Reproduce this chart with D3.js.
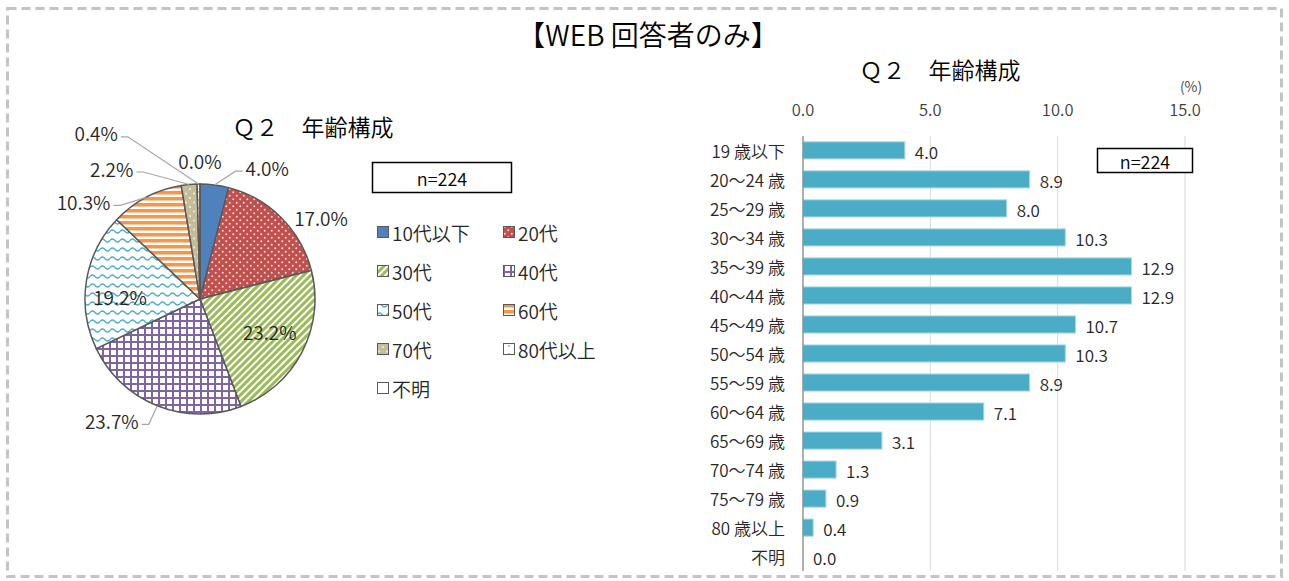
<!DOCTYPE html>
<html>
<head>
<meta charset="utf-8">
<script src="https://cdn.jsdelivr.net/npm/d3@7"></script>
<style>
  body { margin: 0; background: #fff; }
  svg { display: block; font-family: "Noto Sans CJK JP", "Noto Sans", sans-serif; font-weight: 350; }
</style>
</head>
<body>
<svg id="chart" width="1289" height="581"></svg>
<script>
// DATA
const pieCats = ["10代以下", "20代", "30代", "40代", "50代", "60代", "70代", "80代以上", "不明"];
const pieValues = [4.0, 17.0, 23.2, 23.7, 19.2, 10.3, 2.2, 0.4, 0.0];
const ageCats = ["19 歳以下", "20〜24 歳", "25〜29 歳", "30〜34 歳", "35〜39 歳", "40〜44 歳", "45〜49 歳",
  "50〜54 歳", "55〜59 歳", "60〜64 歳", "65〜69 歳", "70〜74 歳", "75〜79 歳", "80 歳以上", "不明"];
const ageValues = [4.0, 8.9, 8.0, 10.3, 12.9, 12.9, 10.7, 10.3, 8.9, 7.1, 3.1, 1.3, 0.9, 0.4, 0.0];
const xTicks = [0, 5, 10, 15];
const sampleLabel = "n=224";

// LAYOUT
const PIE_CX = 200, PIE_CY = 299, PIE_R = 115;
// label placement around the pie: angle (deg from 12 o'clock), distance from centre
const labelAngle = [27, 56, 115, 216, 272, 310, 326, 328, 0];
const labelDist = [148, 146, 77, 150, 80, 152, 158, 196, 139];
const hasLeader = [true, false, false, true, false, true, true, true, false];

const svg = d3.select("#chart");
const defs = svg.append("defs");

// PATTERNS
const addPattern = (id, w, h, draw, transform) => {
  const p = defs.append("pattern")
    .attr("id", id)
    .attr("patternUnits", "userSpaceOnUse")
    .attr("width", w)
    .attr("height", h);
  if (transform) p.attr("patternTransform", transform);
  draw(p);
};

addPattern("p0", 4, 4, p => p.append("rect").attr("width", 4).attr("height", 4).attr("fill", "#4f81bd"));
addPattern("p1", 7, 7, p => {
  p.append("rect").attr("width", 7).attr("height", 7).attr("fill", "#c0504d");
  p.append("circle").attr("cx", 1.75).attr("cy", 1.75).attr("r", 1).attr("fill", "#f4dcdb");
  p.append("circle").attr("cx", 5.25).attr("cy", 5.25).attr("r", 1).attr("fill", "#f4dcdb");
});
addPattern("p2", 5, 5, p => {
  p.append("rect").attr("width", 5).attr("height", 5).attr("fill", "#fff");
  p.append("rect").attr("width", 3).attr("height", 5).attr("fill", "#9bbb59");
}, "rotate(45)");
addPattern("p3", 7, 7, p => {
  p.append("rect").attr("width", 7).attr("height", 7).attr("fill", "#fff");
  p.append("rect").attr("width", 7).attr("height", 2).attr("fill", "#8064a2");
  p.append("rect").attr("width", 2).attr("height", 7).attr("fill", "#8064a2");
});
addPattern("p4", 10, 9, p => {
  p.append("rect").attr("width", 10).attr("height", 9).attr("fill", "#fff");
  p.append("path").attr("d", "M0,4.5 Q2.5,1.5 5,4.5 T10,4.5")
    .attr("fill", "none").attr("stroke", "#4bacc6").attr("stroke-width", 1.3);
});
addPattern("p5", 6, 6, p => {
  p.append("rect").attr("width", 6).attr("height", 6).attr("fill", "#fff");
  p.append("rect").attr("width", 6).attr("height", 3.5).attr("fill", "#f79646");
});
addPattern("p6", 8, 9, p => {
  p.append("rect").attr("width", 8).attr("height", 9).attr("fill", "#c4bd97");
  p.append("circle").attr("cx", 2).attr("cy", 2.5).attr("r", 1).attr("fill", "#f2f0e6");
  p.append("circle").attr("cx", 6).attr("cy", 7).attr("r", 1).attr("fill", "#f2f0e6");
});
addPattern("p7", 8, 8, p => {
  p.append("rect").attr("width", 8).attr("height", 8).attr("fill", "#fff");
  p.append("circle").attr("cx", 6).attr("cy", 5).attr("r", 0.8).attr("fill", "#c0504d");
});
addPattern("p8", 4, 4, p => p.append("rect").attr("width", 4).attr("height", 4).attr("fill", "#fff"));

const fillFor = i => `url(#p${i})`;

// FRAME + MAIN TITLE
svg.append("rect")
  .attr("x", 7.5).attr("y", 8.5)
  .attr("width", 1274).attr("height", 568)
  .attr("fill", "none")
  .attr("stroke", "#c4c4c4")
  .attr("stroke-width", 3)
  .attr("stroke-dasharray", "9,5");

svg.append("text")
  .attr("x", 648).attr("y", 34)
  .attr("text-anchor", "middle")
  .attr("dominant-baseline", "central")
  .style("font-size", "28px")
  .text("【WEB 回答者のみ】");

// PIE CHART
const pieG = svg.append("g");

pieG.append("text")
  .attr("x", 313).attr("y", 126)
  .attr("text-anchor", "middle")
  .attr("dominant-baseline", "central")
  .style("font-size", "23px")
  .text("Ｑ２　年齢構成");

const pie = d3.pie().sort(null).value(d => d)(pieValues);
const arc = d3.arc().innerRadius(0).outerRadius(PIE_R);

pieG.append("g")
  .attr("transform", `translate(${PIE_CX},${PIE_CY})`)
  .selectAll("path")
  .data(pie)
  .join("path")
  .attr("d", arc)
  .attr("fill", (_, i) => fillFor(i))
  .attr("stroke", "#595959")
  .attr("stroke-width", 1.5)
  .attr("stroke-linejoin", "round");

const polar = (deg, dist) => {
  const a = deg * Math.PI / 180;
  return [PIE_CX + Math.sin(a) * dist, PIE_CY - Math.cos(a) * dist];
};

const labelG = pieG.append("g");
pie.forEach((d, i) => {
  const [lx, ly] = polar(labelAngle[i], labelDist[i]);
  const t = labelG.append("text")
    .attr("x", lx).attr("y", ly)
    .attr("text-anchor", "middle")
    .attr("dominant-baseline", "central")
    .style("font-size", "19px")
    .attr("fill", "#262626")
    .text(d3.format(".1f")(d.data) + "%");

  if (hasLeader[i]) {
    const hw = t.node().getComputedTextLength() / 2;
    const mid = (d.startAngle + d.endAngle) / 2 * 180 / Math.PI;
    const [ex, ey] = polar(mid, PIE_R);
    const side = lx > PIE_CX ? -1 : 1;
    const pts = [[ex, ey], [lx + side * (hw + 10), ly + 4], [lx + side * (hw + 3), ly + 4]];
    labelG.append("path")
      .attr("d", d3.line()(pts))
      .attr("fill", "none")
      .attr("stroke", "#a6a6a6")
      .attr("stroke-width", 1.2);
  }
});

// pie n box
pieG.append("rect")
  .attr("x", 372.5).attr("y", 162.5)
  .attr("width", 139).attr("height", 30)
  .attr("fill", "#fff")
  .attr("stroke", "#000")
  .attr("stroke-width", 1.5);
pieG.append("text")
  .attr("x", 442).attr("y", 177.5)
  .attr("text-anchor", "middle")
  .attr("dominant-baseline", "central")
  .style("font-size", "18px")
  .text(sampleLabel);

// legend
const legend = pieG.append("g")
  .selectAll("g")
  .data(pieCats)
  .join("g")
  .attr("transform", (_, i) => `translate(${i % 2 === 0 ? 377 : 503},${232 + Math.floor(i / 2) * 39})`);

legend.append("rect")
  .attr("x", 0.5).attr("y", -5.5)
  .attr("width", 11).attr("height", 11)
  .attr("fill", (_, i) => fillFor(i))
  .attr("stroke", "#595959")
  .attr("stroke-width", 1);

legend.append("text")
  .attr("x", 15).attr("y", 0)
  .attr("dominant-baseline", "central")
  .style("font-size", "19px")
  .attr("fill", "#262626")
  .text(d => d);

// BAR CHART
const barG = svg.append("g");

const x = d3.scaleLinear().domain([0, 15]).range([803, 1185]);
const y = d3.scaleBand().domain(ageCats).range([136, 571]).paddingInner(0.41).paddingOuter(0.2);

barG.append("text")
  .attr("x", 940).attr("y", 69)
  .attr("text-anchor", "middle")
  .attr("dominant-baseline", "central")
  .style("font-size", "23px")
  .text("Ｑ２　年齢構成");

barG.append("text")
  .attr("x", 1191).attr("y", 86)
  .attr("text-anchor", "middle")
  .attr("dominant-baseline", "central")
  .style("font-size", "14px")
  .attr("fill", "#404040")
  .text("(%)");

// gridlines
barG.append("g")
  .selectAll("line")
  .data(xTicks.filter(t => t > 0))
  .join("line")
  .attr("x1", d => x(d)).attr("x2", d => x(d))
  .attr("y1", 136).attr("y2", 571)
  .attr("stroke", "#d9d9d9")
  .attr("stroke-width", 1);

// top axis labels
barG.append("g")
  .selectAll("text")
  .data(xTicks)
  .join("text")
  .attr("x", d => x(d))
  .attr("y", 109)
  .attr("text-anchor", "middle")
  .attr("dominant-baseline", "central")
  .style("font-size", "16.5px")
  .attr("fill", "#404040")
  .text(d => d3.format(".1f")(d));

// bars
barG.append("g")
  .selectAll("rect")
  .data(ageValues)
  .join("rect")
  .attr("x", x(0))
  .attr("y", (_, i) => y(ageCats[i]))
  .attr("width", d => x(d) - x(0))
  .attr("height", y.bandwidth())
  .attr("fill", "#4bacc6")
  .attr("stroke", d => d > 0 ? "#a9d8e5" : "none")
  .attr("stroke-width", 1);

// value labels
barG.append("g")
  .selectAll("text")
  .data(ageValues)
  .join("text")
  .attr("x", d => x(d) + 10)
  .attr("y", (_, i) => y(ageCats[i]) + y.bandwidth() / 2 + 1)
  .attr("dominant-baseline", "central")
  .style("font-size", "17px")
  .attr("fill", "#262626")
  .text(d => d3.format(".1f")(d));

// category labels
barG.append("g")
  .selectAll("text")
  .data(ageCats)
  .join("text")
  .attr("x", 785)
  .attr("y", d => y(d) + y.bandwidth() / 2)
  .attr("text-anchor", "end")
  .attr("dominant-baseline", "central")
  .style("font-size", "17px")
  .attr("fill", "#262626")
  .text(d => d);

// axis line
barG.append("line")
  .attr("x1", x(0)).attr("x2", x(0))
  .attr("y1", 136).attr("y2", 571)
  .attr("stroke", "#868686")
  .attr("stroke-width", 1.3);

// bar n box
barG.append("rect")
  .attr("x", 1097.5).attr("y", 148.5)
  .attr("width", 95).attr("height", 24)
  .attr("fill", "#fff")
  .attr("stroke", "#000")
  .attr("stroke-width", 1.5);
barG.append("text")
  .attr("x", 1145).attr("y", 161)
  .attr("text-anchor", "middle")
  .attr("dominant-baseline", "central")
  .style("font-size", "18px")
  .text(sampleLabel);
</script>
</body>
</html>
